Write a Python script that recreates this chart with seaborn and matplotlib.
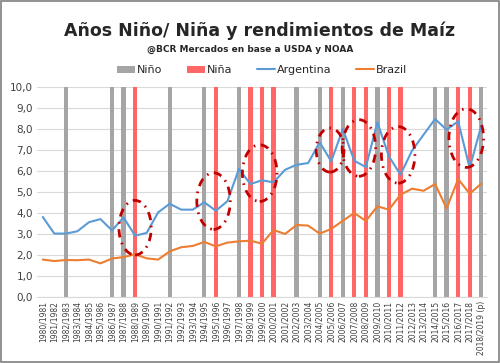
import seaborn as sns
import matplotlib.pyplot as plt
import matplotlib.patches as mpatches
import pandas as pd
import numpy as np

seasons = [f"{y}/{y + 1}" for y in range(1980, 2018)] + ["2018/2019 (p)"]

nino = ["1982/1983", "1986/1987", "1987/1988", "1991/1992", "1994/1995",
        "1997/1998", "2002/2003", "2004/2005", "2006/2007", "2009/2010",
        "2014/2015", "2015/2016", "2018/2019 (p)"]
nina = ["1988/1989", "1995/1996", "1998/1999", "1999/2000", "2000/2001",
        "2005/2006", "2007/2008", "2008/2009", "2010/2011", "2011/2012",
        "2016/2017", "2017/2018"]

argentina = [3.81, 3.02, 3.02, 3.13, 3.56, 3.71, 3.17, 3.79, 2.92, 3.05,
             4.03, 4.44, 4.16, 4.16, 4.51, 4.11, 4.56, 6.10, 5.38, 5.56,
             5.46, 6.06, 6.30, 6.38, 7.37, 6.46, 8.00, 6.49, 6.19, 8.32,
             6.70, 5.83, 6.97, 7.73, 8.48, 7.97, 8.37, 6.14, 8.16]
brazil = [1.78, 1.71, 1.76, 1.75, 1.78, 1.60, 1.83, 1.90, 2.03, 1.84,
          1.78, 2.17, 2.37, 2.43, 2.62, 2.41, 2.59, 2.65, 2.68, 2.54,
          3.19, 3.00, 3.43, 3.40, 3.02, 3.24, 3.63, 4.00, 3.62, 4.32,
          4.16, 4.87, 5.16, 5.06, 5.38, 4.22, 5.62, 4.92, 5.40]

# circled zones (center season index, center y, width, height)
circles = [(8.0, 3.3, 2.8, 2.6), (14.8, 4.57, 2.9, 2.7), (18.8, 5.9, 3.0, 2.7),
           (24.9, 7.0, 2.4, 2.1), (27.4, 7.1, 2.9, 2.7), (30.8, 6.77, 2.9, 2.7),
           (36.7, 7.57, 3.0, 2.8)]

bars = pd.DataFrame({"season": nino + nina,
                     "tipo": ["Niño"] * len(nino) + ["Niña"] * len(nina)})
bars["h"] = 10.0
lines = pd.DataFrame({"i": np.arange(len(seasons)), "Argentina": argentina, "Brazil": brazil})

sns.set_style("white")
plt.rcParams["font.family"] = ["DejaVu Sans"]

fig = plt.figure(figsize=(5.0, 3.63), dpi=100)
ax = fig.add_axes([0.074, 0.182, 0.9, 0.578])

sns.barplot(bars, x="season", y="h", hue="tipo", order=seasons,
            hue_order=["Niño", "Niña"], palette=["#A5A5A5", "#FF6666"], saturation=1,
            dodge=False, width=0.37, ax=ax, legend=True, linewidth=0)
sns.lineplot(lines, x="i", y="Argentina", color="#5B9BD5", lw=1.5, ax=ax, label="Argentina")
sns.lineplot(lines, x="i", y="Brazil", color="#ED7D31", lw=1.5, ax=ax, label="Brazil")

for cx, cy, w, h in circles:
    ax.add_patch(mpatches.Ellipse((cx, cy), w, h, fill=False, ec="#C00000",
                                  lw=2, ls=(0, (3, 2, 0.6, 2)), zorder=5))

ax.set_ylim(0, 10)
ax.set_xlim(-0.5, len(seasons) - 0.5)
ax.set_yticks(np.arange(0, 11, 1))
ax.set_yticklabels([f"{v:.1f}".replace(".", ",") for v in range(11)], fontsize=7.5, color="#404040")
ax.set_xticks(np.arange(len(seasons)))
ax.set_xticklabels(seasons, rotation=90, fontsize=5.5, color="#404040")
ax.tick_params(length=0, pad=3)
ax.yaxis.grid(True, color="#D9D9D9", lw=0.8)
ax.set_axisbelow(True)
for s in ["top", "right", "left"]:
    ax.spines[s].set_visible(False)
ax.spines["bottom"].set_color("#D9D9D9")
ax.set(xlabel=None, ylabel=None)

handles, labels = ax.get_legend_handles_labels()
order = [labels.index(k) for k in ["Niño", "Niña", "Argentina", "Brazil"]]
ax.legend([handles[k] for k in order], [labels[k] for k in order], ncol=4,
          loc="center", bbox_to_anchor=(0.5, 1.08), frameon=False, fontsize=8,
          handlelength=1.6, handletextpad=0.2, columnspacing=2.2)

fig.text(0.52, 0.915, "Años Niño/ Niña y rendimientos de Maíz", ha="center", va="center",
         fontsize=12.5, fontweight="bold")
fig.text(0.50, 0.865, "@BCR Mercados en base a USDA y NOAA", ha="center", va="center",
         fontsize=6.5, fontweight="bold")

fig.patches.append(mpatches.Rectangle((0.002, 0.003), 0.995, 0.993, transform=fig.transFigure,
                                      fill=False, ec="#7F7F7F", lw=1.2))

fig.savefig("out.png", dpi=100)
